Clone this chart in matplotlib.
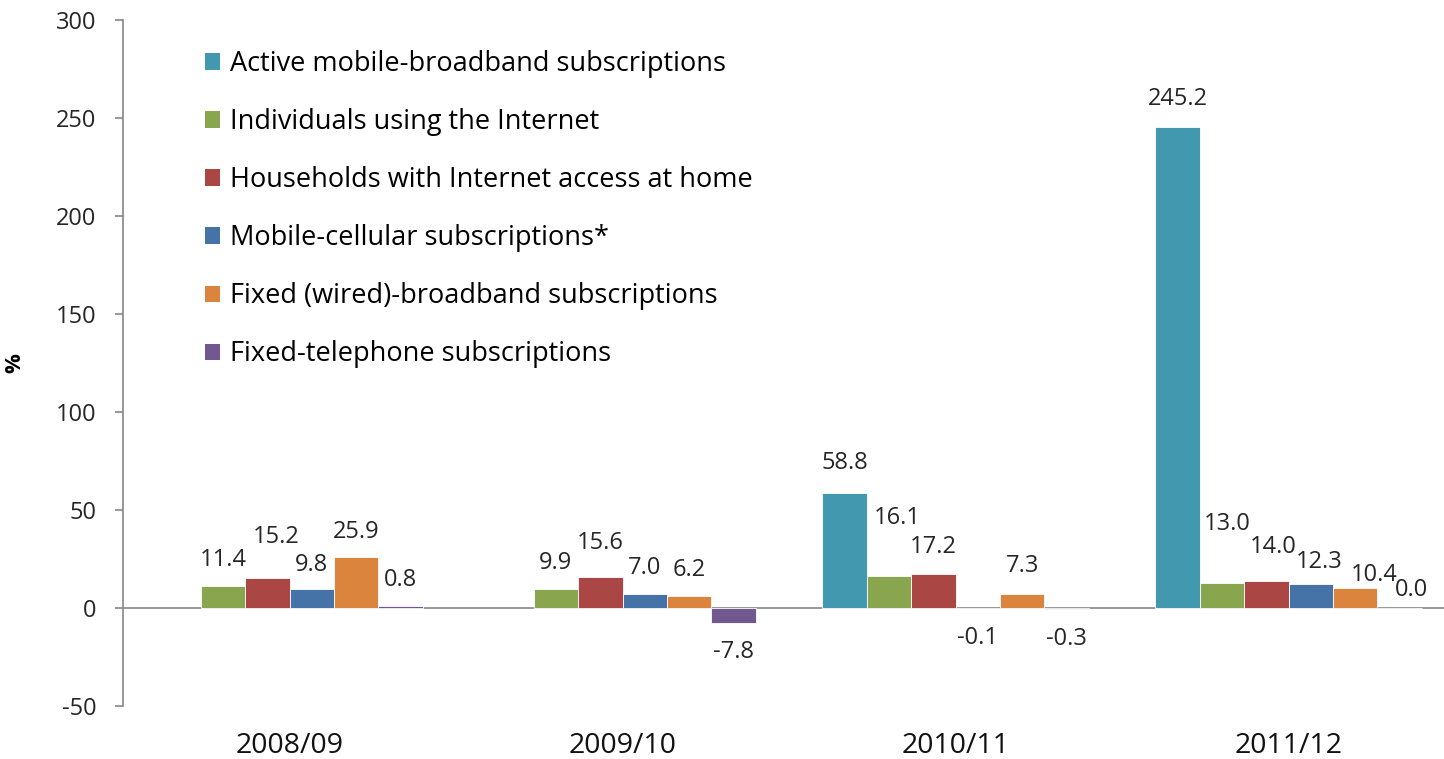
import numpy as np
import matplotlib.pyplot as plt
from matplotlib.patches import Patch

plt.rcParams['font.family'] = ['Open Sans', 'DejaVu Sans']
plt.rcParams['axes.unicode_minus'] = False

years = ['2008/09', '2009/10', '2010/11', '2011/12']
series = ['Active mobile-broadband subscriptions',
          'Individuals using the Internet',
          'Households with Internet access at home',
          'Mobile-cellular subscriptions*',
          'Fixed (wired)-broadband subscriptions',
          'Fixed-telephone subscriptions']
mobile_bb = [np.nan, np.nan, 58.8, 245.2]
internet = [11.4, 9.9, 16.1, 13.0]
households = [15.2, 15.6, 17.2, 14.0]
cellular = [9.8, 7.0, -0.1, 12.3]
fixed_bb = [25.9, 6.2, 7.3, 10.4]
fixed_tel = [0.8, -7.8, -0.3, 0.0]
values = [mobile_bb, internet, households, cellular, fixed_bb, fixed_tel]
colors = ['#4198AF', '#89A54E', '#AA4643', '#4572A7', '#DB843D', '#71588F']

# label offsets in pixels (dx, dy) per series, per year -- the labels were moved by hand
lab_off = [
    [(0, 0), (0, 0), (0, 30), (0, 28)],
    [(0, 26), (0, 26), (8, 58), (5, 59)],
    [(9, 41), (0, 34), (0, 27), (7, 34)],
    [(0, 24), (0, 26), (0, -30), (8, 22)],
    [(0, 25), (0, 26), (0, 28), (19, 13)],
    [(0, 26), (0, -29), (0, -30), (12, 18)],
]

fig = plt.figure(figsize=(14.44, 7.59), dpi=100)
ax = fig.add_axes([123/1444, 53/759, 1 - 123/1444, 686/759])

x = np.arange(len(years))
w = 0.8 / 6
for i, vals in enumerate(values):
    pos = x - 0.4 + w * (i + 0.5)
    ax.bar(pos, vals, w, color=colors[i], edgecolor='white', linewidth=0.6, zorder=2)
    for j, v in enumerate(vals):
        if np.isnan(v):
            continue
        dx, dy = lab_off[i][j]
        ax.annotate('%.1f' % v, (pos[j], v), xytext=(dx, dy), textcoords='offset pixels',
                    ha='center', va='center', fontsize=17, color='#262626')

ax.axhline(0, color='#868686', lw=1.2, zorder=1)
ax.set_ylim(-50, 300)
ax.set_xlim(-0.5, -0.5 + 1321 / 333)
ax.set_yticks(range(-50, 301, 50))
ax.set_xticks(x)
ax.set_xticklabels(years, fontsize=20.5, color='#111111')
ax.tick_params(axis='x', length=0, pad=19)
ax.tick_params(axis='y', length=6, color='#868686', width=1.2, pad=13, labelsize=17, labelcolor='#262626')
for s in ['top', 'right', 'bottom']:
    ax.spines[s].set_visible(False)
ax.spines['left'].set_color('#868686')
ax.spines['left'].set_linewidth(1.2)
ax.set_ylabel('%', fontsize=16, fontweight='bold')
ax.yaxis.set_label_coords(-98 / 1321, 0.5)

handles = [Patch(facecolor=c, edgecolor='none') for c in colors]
fig.legend(handles, series, loc='upper left', bbox_to_anchor=(205/1444, 1 - 50/759),
           frameon=False, fontsize=19.5, handlelength=0.55, handleheight=0.55,
           handletextpad=0.37, labelspacing=1.11, borderpad=0, borderaxespad=0)

fig.savefig('out.png', dpi=100)
